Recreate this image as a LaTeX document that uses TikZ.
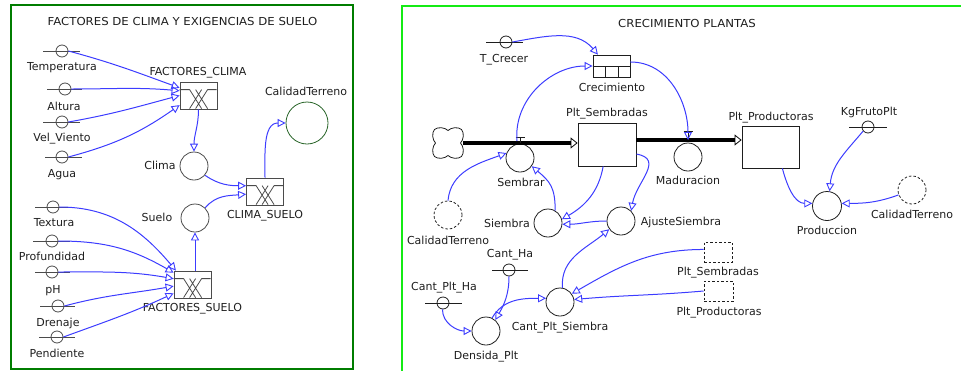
\documentclass[tikz,border=0pt]{standalone}
\usepackage{fontspec}
\usepackage{graphicx}
\setmainfont{DejaVu Sans}
\usetikzlibrary{arrows.meta}
\definecolor{linkblue}{RGB}{60,60,255}
\definecolor{frameL}{RGB}{0,125,0}
\definecolor{frameR}{RGB}{20,235,20}
\definecolor{calgreen}{RGB}{40,100,40}
\definecolor{ink}{RGB}{30,30,30}
\definecolor{inkL}{RGB}{75,75,75}

\begin{document}
\begin{tikzpicture}[x=1pt,y=-1pt,
  font=\fontsize{11}{13}\selectfont,
  txt/.style={inner sep=0pt, text height=8pt, text depth=2pt, text=ink},
  cst/.style={circle, draw=ink, minimum size=12pt, inner sep=0pt, line width=0.8pt},
  aux/.style={circle, draw=ink, minimum size=28pt, inner sep=0pt, line width=0.8pt},
  ghostaux/.style={aux, dash pattern=on 2.5pt off 2pt},
  stock/.style={rectangle, draw=ink, inner sep=0pt, line width=0.8pt},
  ghoststock/.style={stock, dash pattern=on 2.5pt off 2pt},
  subm/.style={stock, draw=ink, minimum width=37pt, minimum height=27pt},
  bar/.style={draw=ink, line width=0.8pt},
  lnk/.style={draw=linkblue, line width=1pt,
    -{Triangle[open, length=8pt, width=8pt, line width=0.9pt]}},
  pipe/.style={draw=black, line width=4pt,
    -{Triangle[open, length=7pt, width=11pt, line width=0.8pt]}},
]
\useasboundingbox (0,0) rectangle (961,370);

% ---------- panel frames ----------
\draw[frameL, line width=2pt] (11,5) rectangle (353,369);
\draw[frameR, line width=2.5pt] (962,6) -- (402,6) -- (402,371);

% ================= climate and soil factors =================
\node[txt] (titleL) at (182.5,22) {\scalebox{1.065}[1]{FACTORES DE CLIMA Y EXIGENCIAS DE SUELO}};

% constants
\node[cst, draw=inkL] (temp) at (62,51) {};
\node[cst, draw=inkL] (alt)  at (65,89) {};
\node[cst, draw=inkL] (vel)  at (62,122) {};
\node[cst, draw=inkL] (agua) at (62,157) {};
\node[cst, draw=inkL] (text) at (53,207) {};
\node[cst, draw=inkL] (prof) at (52,241) {};
\node[cst, draw=inkL] (ph)   at (52,272) {};
\node[cst, draw=inkL] (dren) at (58,306) {};
\node[cst, draw=inkL] (pend) at (57,337) {};
\foreach \n/\l/\r in {temp/19/18, alt/18/17, vel/19/18, agua/17/20, text/18/19,
                      prof/19/18, ph/17/18, dren/18/17, pend/18/18}
  \draw[bar, draw=inkL] ([xshift=-\l pt]\n.center) -- ([xshift=\r pt]\n.center);

\node[txt] (temp-t) at (62,67)  {Temperatura};
\node[txt] (alt-t)  at (64,107) {Altura};
\node[txt] (vel-t)  at (62,138) {Vel\_Viento};
\node[txt] (agua-t) at (62,174) {Agua};
\node[txt] (text-t) at (54,223) {Textura};
\node[txt] (prof-t) at (52,257) {Profundidad};
\node[txt] (ph-t)   at (53,290) {pH};
\node[txt] (dren-t) at (58,323) {Drenaje};
\node[txt] (pend-t) at (57,354) {Pendiente};

% submodel boxes
\node[subm, draw=inkL] (fclima) at (198.5,95.5) {};
\node[subm, draw=inkL] (csuelo) at (265,191.5) {};
\node[subm, draw=inkL] (fsuelo) at (192.5,284.5) {};
\foreach \b in {fclima,csuelo,fsuelo}
  \draw[inkL, line width=0.8pt, shift={(\b.north west)}]
    (0,8) -- (10,8) (28,8) -- (37,8)
    (10,8) -- (22,27) (10,27) -- (22,8)
    (16,8) -- (28,27) (16,27) -- (28,8);
\node[txt] (fclima-t) at (198,72)  {FACTORES\_CLIMA};
\node[txt] (csuelo-t) at (265,215) {CLIMA\_SUELO};
\node[txt] (fsuelo-t) at (192.5,308) {FACTORES\_SUELO};

% auxiliaries
\node[aux, draw=inkL] (clima) at (194,166) {};
\node[aux, draw=inkL] (suelo) at (195,218) {};
\node[circle, draw=calgreen, minimum size=42pt, inner sep=0pt, line width=0.8pt] (calid) at (307,123) {};
\node[txt] (clima-t) at (160,166) {Clima};
\node[txt] (suelo-t) at (157,218) {Suelo};
\node[txt] (calid-t) at (306,92)  {CalidadTerreno};

% links
\draw[lnk] (temp.east) to[out=-15, in=160] (fclima.158);
\draw[lnk] (alt.east)  to[out=0, in=175]   (fclima.166);
\draw[lnk] (vel.east)  to[out=10, in=195]  (fclima.180);
\draw[lnk] (agua.east) to[out=15, in=215]  (fclima.207);
\draw[lnk] (fclima.south) to[out=-90, in=90] (clima.north);
\draw[lnk] (clima.-40) to[out=-35, in=180] (csuelo.163);
\draw[lnk] (suelo.45)  to[out=50, in=185]  (csuelo.188);
\draw[lnk] (csuelo.north) to[out=90, in=180] (calid.180);
\draw[lnk] (fsuelo.north -| suelo.south) -- (suelo.south);
\draw[lnk] (text.east) to[out=0, in=130]  (fsuelo.140);
\draw[lnk] (prof.east) to[out=0, in=150]  (fsuelo.148);
\draw[lnk] (ph.east)   to[out=0, in=170]  (fsuelo.163);
\draw[lnk] (dren.east) to[out=15, in=190] (fsuelo.185);
\draw[lnk] (pend.east) to[out=20, in=205] (fsuelo.205);

% ================= plant growth =================
\node[txt] (titleR) at (687,24) {\scalebox{1.065}[1]{CRECIMIENTO PLANTAS}};

% source cloud
\node[minimum size=30pt, inner sep=0pt] (src) at (448,143) {};
\draw[ink, line width=0.8pt, shift={(src.center)}]
  (0,-12.5) .. controls (3,-15.5) and (10,-16.5) .. (13.5,-13.5)
            .. controls (16.5,-10) and (15.5,-3) .. (12.5,0)
            .. controls (15.5,3) and (16.5,10) .. (13.5,13.5)
            .. controls (10,16.5) and (3,15.5) .. (0,12.5)
            .. controls (-3,15.5) and (-10,16.5) .. (-13.5,13.5)
            .. controls (-16.5,10) and (-15.5,3) .. (-12.5,0)
            .. controls (-15.5,-3) and (-16.5,-10) .. (-13.5,-13.5)
            .. controls (-10,-16.5) and (-3,-15.5) .. (0,-12.5) -- cycle;

% stocks and valves
\node[stock, minimum width=58pt, minimum height=43pt] (pltS) at (607,144.5) {};
\node[stock, minimum width=57pt, minimum height=42pt] (pltP) at (770.5,147) {};
\node[aux] (sembrar) at (520,158) {};
\node[aux] (madur)   at (688,157) {};
\coordinate (semT) at (520,143);
\coordinate (madT) at (688,140);
\coordinate (semtap) at (517,141);

\draw[pipe] (src.east) -- (pltS.west |- src.east);
\draw[pipe] (pltS.east |- madT) -- (pltP.west |- madT);
\draw[bar] (semT) -- ([yshift=6pt]semT)
           ([shift={(-4.5pt,6pt)}]semT) -- ([shift={(4.5pt,6pt)}]semT);
\draw[bar] (madT) -- ([yshift=8.5pt]madT)
           ([shift={(-4.5pt,8.5pt)}]madT) -- ([shift={(4.5pt,8.5pt)}]madT);

\node[txt] (pltS-t)    at (607,113) {Plt\_Sembradas};
\node[txt] (pltP-t)    at (771,117) {Plt\_Productoras};
\node[txt] (sembrar-t) at (521,183) {Sembrar};
\node[txt] (madur-t)   at (688,181) {Maduracion};

% conveyor
\node[stock, minimum width=37pt, minimum height=22pt] (crec) at (611.5,66) {};
\draw[bar] (crec.west) -- (crec.east)
           ([xshift=-6pt]crec.center) -- ([xshift=-6pt]crec.south)
           ([xshift=6.5pt]crec.center) -- ([xshift=6.5pt]crec.south);
\node[txt] (crec-t) at (612,88) {Crecimiento};

% constants
\node[cst] (tcrec)   at (506,42)  {};
\node[cst] (kg)      at (868,127) {};
\node[cst] (cantha)  at (509,270) {};
\node[cst] (cantplt) at (443,303) {};
\foreach \n/\l/\r in {tcrec/20/17, kg/19/19, cantha/17/19, cantplt/18/19}
  \draw[bar] ([xshift=-\l pt]\n.center) -- ([xshift=\r pt]\n.center);
\node[txt] (tcrec-t)   at (504,59)  {T\_Crecer};
\node[txt] (kg-t)      at (869,112) {KgFrutoPlt};
\node[txt] (cantha-t)  at (510,254) {Cant\_Ha};
\node[txt] (cantplt-t) at (444,287) {Cant\_Plt\_Ha};

% auxiliaries
\node[aux, minimum size=29pt] (prod) at (827,206) {};
\node[ghostaux] (calR)   at (912,190) {};
\node[ghostaux] (calL)   at (448,215) {};
\node[aux] (siembra)     at (548,223) {};
\node[aux] (ajuste)      at (621,221) {};
\node[aux] (dens)        at (486,331) {};
\node[aux] (cps)         at (560,302) {};
\node[ghoststock, minimum width=28pt, minimum height=20pt] (gS) at (718,252) {};
\node[ghoststock, minimum width=29pt, minimum height=20pt] (gP) at (718.5,291) {};

\node[txt] (prod-t)    at (827,231) {Produccion};
\node[txt] (calR-t)    at (912,215) {CalidadTerreno};
\node[txt] (calL-t)    at (448,241) {CalidadTerreno};
\node[txt] (siembra-t) at (507,224) {Siembra};
\node[txt] (ajuste-t)  at (681,222) {AjusteSiembra};
\node[txt] (dens-t)    at (486,356) {Densida\_Plt};
\node[txt] (cps-t)     at (560,327) {Cant\_Plt\_Siembra};
\node[txt] (gS-t)      at (718,272) {Plt\_Sembradas};
\node[txt] (gP-t)      at (719,312) {Plt\_Productoras};

% links
\draw[lnk] (tcrec.east) to[out=10, in=130] (crec.140);
\draw[lnk] (semtap) to[out=95, in=180] (crec.west);
\draw[lnk] (crec.12) to[out=0, in=90] (madT);
\draw[lnk] (calL.north) to[out=85, in=200] (sembrar.160);
\draw[lnk] (siembra.60) to[out=90, in=-40, looseness=1.2] (sembrar.-35);
\draw[lnk] (pltS.-100) to[out=-100, in=30] (siembra.15);
\draw[lnk] (pltS.-18) to[out=-10, in=80, looseness=1.3] (ajuste.45);
\draw[lnk] (ajuste.180) to[out=180, in=0] (siembra.-5);
\draw[lnk] (pltP.-61) to[out=-75, in=180] (prod.170);
\draw[lnk] (kg.-140) to[out=-130, in=85] (prod.80);
\draw[lnk] (calR.200) to[out=200, in=0] (prod.10);
\draw[lnk] (cantplt.-95) to[out=-90, in=180] (dens.180);
\draw[lnk] (cantha.south) to[out=-90, in=60] (dens.50);
\draw[lnk] (dens.65) to[out=60, in=180] (cps.165);
\draw[lnk] (cps.80) to[out=95, in=220] (ajuste.215);
\draw[lnk] (gS.170) to[out=180, in=30] (cps.35);
\draw[lnk] (gP.west) to[out=185, in=5] (cps.10);
\end{tikzpicture}
\end{document}
